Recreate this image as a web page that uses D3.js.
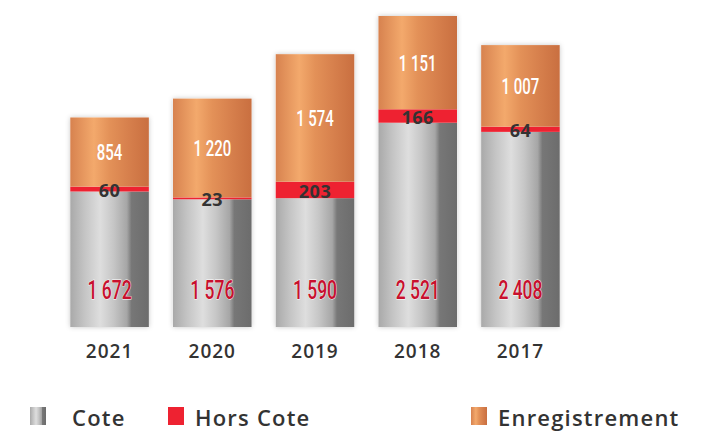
<!DOCTYPE html>
<html>
  <head>
    <meta charset="UTF-8">
    <script src="https://cdn.jsdelivr.net/npm/d3@7"></script>
    <style type="text/css">
    body { margin: 0; background: #fff; }

    text.year {
      text-anchor: middle;
      font-family: "Open Sans", sans-serif;
      font-weight: 600;
      font-size: 19px;
      letter-spacing: 1px;
      fill: #333;
    }

    text.lab-cote {
      text-anchor: middle;
      font-family: "Roboto", sans-serif;
      font-weight: 500;
      font-size: 25px;
      fill: #c8102e;
      stroke: #fff;
      stroke-width: 0.8;
      paint-order: stroke;
    }

    text.lab-hors {
      text-anchor: middle;
      font-family: "Open Sans", sans-serif;
      font-weight: 700;
      font-size: 18px;
      letter-spacing: 0.5px;
      fill: #333;
    }

    text.lab-enr {
      text-anchor: middle;
      font-family: "Roboto", sans-serif;
      font-weight: 500;
      font-size: 22px;
      fill: #fff;
    }

    text.legend {
      font-family: "Open Sans", sans-serif;
      font-weight: 600;
      font-size: 22px;
      letter-spacing: 1.2px;
      fill: #333;
    }
    </style>
  </head>
  <body>
    <script type="text/javascript">

      var years = ["2021", "2020", "2019", "2018", "2017"];
      var cote = [1672, 1576, 1590, 2521, 2408];
      var horsCote = [60, 23, 203, 166, 64];
      var enregistrement = [854, 1220, 1574, 1151, 1007];
      var coteLabels = ["1 672", "1 576", "1 590", "2 521", "2 408"];
      var enrLabels = ["854", "1 220", "1 574", "1 151", "1 007"];
      var legendNames = ["Cote", "Hors Cote", "Enregistrement"];

      var width = 719;
      var height = 436;

      var svg = d3.select("body").append("svg")
        .attr("width", width)
        .attr("height", height);

      var defs = svg.append("defs");

      /* gray cylinder gradient */
      var gGray = defs.append("linearGradient").attr("id", "gray");
      [[0, "#a9a9a9"], [0.18, "#c4c4c4"], [0.38, "#dedede"], [0.55, "#c6c6c6"], [0.72, "#a6a6a6"], [0.78, "#777"], [1, "#6c6c6c"]]
        .forEach(function(s) { gGray.append("stop").attr("offset", s[0]).attr("stop-color", s[1]); });

      /* orange cylinder gradient */
      var gOr = defs.append("linearGradient").attr("id", "orange");
      [[0, "#d7824f"], [0.3, "#f3a96c"], [0.5, "#e39158"], [0.75, "#d67f4c"], [1, "#c96f40"]]
        .forEach(function(s) { gOr.append("stop").attr("offset", s[0]).attr("stop-color", s[1]); });

      var shadow = defs.append("filter").attr("id", "shadow")
        .attr("x", "-20%").attr("y", "-10%").attr("width", "140%").attr("height", "120%");
      shadow.append("feDropShadow").attr("dx", 0).attr("dy", 0).attr("stdDeviation", 2.5)
        .attr("flood-color", "#000").attr("flood-opacity", 0.22);

      var data = years.map(function(y, i) {
        return { year: y, cote: cote[i], hors: horsCote[i], enr: enregistrement[i], i: i };
      });

      var x = d3.scaleBand()
        .domain(years)
        .range([60, 570])
        .paddingInner(0.235)
        .paddingOuter(0.1);

      var y = d3.scaleLinear()
        .domain([0, d3.max(data, function(d) { return d.cote + d.hors + d.enr; })])
        .range([327, 16]);

      var cx = x.bandwidth() / 2;

      var bars = svg.selectAll("g.bar")
        .data(data)
        .enter()
        .append("g")
        .attr("class", "bar")
        .attr("transform", function(d) { return "translate(" + x(d.year) + ",0)"; });

      bars.append("rect")
        .attr("filter", "url(#shadow)")
        .attr("fill", "#fff")
        .attr("width", x.bandwidth())
        .attr("y", function(d) { return y(d.cote + d.hors + d.enr); })
        .attr("height", function(d) { return y(0) - y(d.cote + d.hors + d.enr); });

      /* Cote segment */
      bars.append("rect")
        .attr("fill", "url(#gray)")
        .attr("width", x.bandwidth())
        .attr("y", function(d) { return y(d.cote); })
        .attr("height", function(d) { return y(0) - y(d.cote); });

      /* Hors Cote segment */
      bars.append("rect")
        .attr("fill", "#ee2231")
        .attr("width", x.bandwidth())
        .attr("y", function(d) { return y(d.cote + d.hors); })
        .attr("height", function(d) { return y(d.cote) - y(d.cote + d.hors); });

      /* Enregistrement segment */
      bars.append("rect")
        .attr("fill", "url(#orange)")
        .attr("width", x.bandwidth())
        .attr("y", function(d) { return y(d.cote + d.hors + d.enr); })
        .attr("height", function(d) { return y(d.cote + d.hors) - y(d.cote + d.hors + d.enr); });

      /* labels (condensed by scaling x) */
      bars.append("text")
        .attr("class", "lab-cote")
        .attr("transform", "translate(" + cx + "," + (y(0) - 28) + ") scale(0.7,1)")
        .text(function(d) { return coteLabels[d.i]; });

      bars.append("text")
        .attr("class", "lab-hors")
        .attr("x", cx)
        .attr("y", function(d) { return (y(d.cote) + y(d.cote + d.hors)) / 2 + 8; })
        .text(function(d) { return d.hors; });

      bars.append("text")
        .attr("class", "lab-enr")
        .attr("transform", function(d) {
          var my = (y(d.cote + d.hors) + y(d.cote + d.hors + d.enr)) / 2 + 8;
          return "translate(" + cx + "," + my + ") scale(0.68,1)";
        })
        .text(function(d) { return enrLabels[d.i]; });

      /* year axis labels */
      svg.selectAll("text.year")
        .data(years)
        .enter()
        .append("text")
        .attr("class", "year")
        .attr("x", function(d) { return x(d) + x.bandwidth() / 2; })
        .attr("y", 358)
        .text(function(d) { return d; });

      /* legend */
      var legendX = [30, 168, 471];
      var legendFill = ["url(#gray)", "#ee2231", "url(#orange)"];
      var leg = svg.selectAll("g.legend")
        .data(legendNames)
        .enter()
        .append("g")
        .attr("class", "legend")
        .attr("transform", function(d, i) { return "translate(" + legendX[i] + ",407)"; });

      leg.append("rect")
        .attr("width", 16)
        .attr("height", 18)
        .attr("fill", function(d, i) { return legendFill[i]; });

      leg.append("text")
        .attr("class", "legend")
        .attr("x", function(d, i) { return i == 0 ? 42 : 27; })
        .attr("y", 19)
        .text(function(d) { return d; });

    </script>
  </body>
</html>
